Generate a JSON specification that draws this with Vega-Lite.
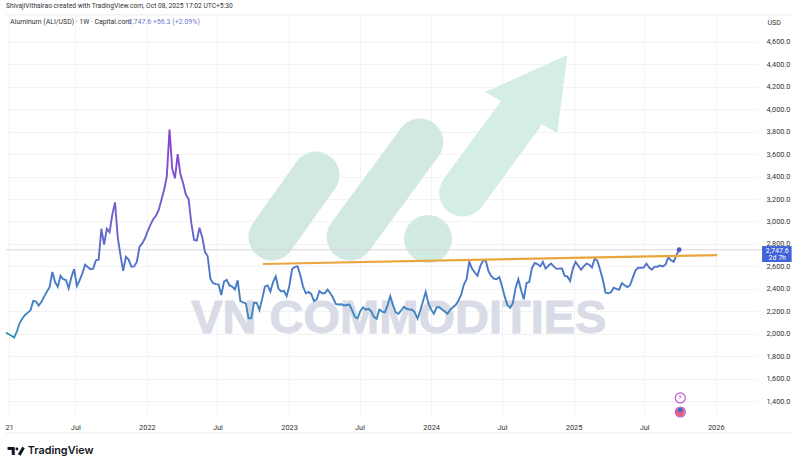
{
  "$schema": "https://vega.github.io/schema/vega-lite/v6.json",
  "description": "Aluminum (ALI/USD) weekly close with trend line and VN Commodities watermark",
  "width": 751,
  "height": 403,
  "autosize": "none",
  "padding": {"left": 6, "top": 15, "right": 43, "bottom": 43},
  "background": "white",
  "title": {
    "text": "ShivajiVithalrao created with TradingView.com, Oct 08, 2025 17:02 UTC+5:30",
    "anchor": "start",
    "frame": "group",
    "offset": 3,
    "fontSize": 6.7,
    "fontWeight": "normal",
    "font": "Roboto",
    "color": "#333333"
  },
  "config": {
    "view": {"stroke": null},
    "font": "Roboto"
  },
  "datasets": {
    "aluminum": [
      {"d":"2021-01-04","p":2009},{"d":"2021-01-11","p":1995},{"d":"2021-01-18","p":1982},{"d":"2021-01-25","p":1965},
      {"d":"2021-02-01","p":2020},{"d":"2021-02-08","p":2095},{"d":"2021-02-15","p":2135},{"d":"2021-02-22","p":2167},
      {"d":"2021-03-01","p":2188},{"d":"2021-03-08","p":2210},{"d":"2021-03-15","p":2292},{"d":"2021-03-22","p":2287},{"d":"2021-03-29","p":2250},
      {"d":"2021-04-05","p":2285},{"d":"2021-04-12","p":2330},{"d":"2021-04-19","p":2375},{"d":"2021-04-26","p":2415},
      {"d":"2021-05-03","p":2550},{"d":"2021-05-10","p":2460},{"d":"2021-05-17","p":2418},{"d":"2021-05-24","p":2515},{"d":"2021-05-31","p":2485},
      {"d":"2021-06-07","p":2478},{"d":"2021-06-14","p":2404},{"d":"2021-06-21","p":2505},{"d":"2021-06-28","p":2575},
      {"d":"2021-07-05","p":2425},{"d":"2021-07-12","p":2475},{"d":"2021-07-19","p":2535},{"d":"2021-07-26","p":2615},
      {"d":"2021-08-02","p":2595},{"d":"2021-08-09","p":2575},{"d":"2021-08-16","p":2580},{"d":"2021-08-23","p":2655},{"d":"2021-08-30","p":2660},
      {"d":"2021-09-06","p":2935},{"d":"2021-09-13","p":2795},{"d":"2021-09-20","p":2935},{"d":"2021-09-27","p":2905},
      {"d":"2021-10-04","p":3060},{"d":"2021-10-11","p":3170},{"d":"2021-10-18","p":2860},{"d":"2021-10-25","p":2700},
      {"d":"2021-11-01","p":2560},{"d":"2021-11-08","p":2685},{"d":"2021-11-15","p":2660},{"d":"2021-11-22","p":2597},{"d":"2021-11-29","p":2600},
      {"d":"2021-12-06","p":2640},{"d":"2021-12-13","p":2775},{"d":"2021-12-20","p":2805},{"d":"2021-12-27","p":2850},
      {"d":"2022-01-03","p":2915},{"d":"2022-01-10","p":2970},{"d":"2022-01-17","p":3020},{"d":"2022-01-24","p":3050},{"d":"2022-01-31","p":3100},
      {"d":"2022-02-07","p":3190},{"d":"2022-02-14","p":3280},{"d":"2022-02-21","p":3400},{"d":"2022-02-28","p":3820},
      {"d":"2022-03-07","p":3470},{"d":"2022-03-14","p":3385},{"d":"2022-03-21","p":3600},{"d":"2022-03-28","p":3420},
      {"d":"2022-04-04","p":3340},{"d":"2022-04-11","p":3240},{"d":"2022-04-18","p":3200},{"d":"2022-04-25","p":2985},
      {"d":"2022-05-02","p":2835},{"d":"2022-05-09","p":2829},{"d":"2022-05-16","p":2945},{"d":"2022-05-23","p":2860},{"d":"2022-05-30","p":2730},
      {"d":"2022-06-06","p":2690},{"d":"2022-06-13","p":2490},{"d":"2022-06-20","p":2450},{"d":"2022-06-27","p":2442},
      {"d":"2022-07-04","p":2440},{"d":"2022-07-11","p":2345},{"d":"2022-07-18","p":2465},{"d":"2022-07-25","p":2480},
      {"d":"2022-08-01","p":2430},{"d":"2022-08-08","p":2420},{"d":"2022-08-15","p":2395},{"d":"2022-08-22","p":2475},{"d":"2022-08-29","p":2291},
      {"d":"2022-09-05","p":2280},{"d":"2022-09-12","p":2270},{"d":"2022-09-19","p":2137},{"d":"2022-09-26","p":2137},
      {"d":"2022-10-03","p":2276},{"d":"2022-10-10","p":2276},{"d":"2022-10-17","p":2211},{"d":"2022-10-24","p":2310},{"d":"2022-10-31","p":2420},
      {"d":"2022-11-07","p":2430},{"d":"2022-11-14","p":2375},{"d":"2022-11-21","p":2460},{"d":"2022-11-28","p":2510},
      {"d":"2022-12-05","p":2400},{"d":"2022-12-12","p":2376},{"d":"2022-12-19","p":2381},{"d":"2022-12-26","p":2335},
      {"d":"2023-01-02","p":2430},{"d":"2023-01-09","p":2577},{"d":"2023-01-16","p":2595},{"d":"2023-01-23","p":2600},{"d":"2023-01-30","p":2520},
      {"d":"2023-02-06","p":2420},{"d":"2023-02-13","p":2360},{"d":"2023-02-20","p":2372},{"d":"2023-02-27","p":2355},
      {"d":"2023-03-06","p":2290},{"d":"2023-03-13","p":2305},{"d":"2023-03-20","p":2380},{"d":"2023-03-27","p":2360},
      {"d":"2023-04-03","p":2360},{"d":"2023-04-10","p":2393},{"d":"2023-04-17","p":2360},{"d":"2023-04-24","p":2320},
      {"d":"2023-05-01","p":2265},{"d":"2023-05-08","p":2260},{"d":"2023-05-15","p":2262},{"d":"2023-05-22","p":2252},{"d":"2023-05-29","p":2256},
      {"d":"2023-06-05","p":2260},{"d":"2023-06-12","p":2210},{"d":"2023-06-19","p":2150},{"d":"2023-06-26","p":2137},
      {"d":"2023-07-03","p":2200},{"d":"2023-07-10","p":2235},{"d":"2023-07-17","p":2214},{"d":"2023-07-24","p":2222},{"d":"2023-07-31","p":2200},
      {"d":"2023-08-07","p":2150},{"d":"2023-08-14","p":2131},{"d":"2023-08-21","p":2215},{"d":"2023-08-28","p":2197},
      {"d":"2023-09-04","p":2190},{"d":"2023-09-11","p":2250},{"d":"2023-09-18","p":2335},{"d":"2023-09-25","p":2255},
      {"d":"2023-10-02","p":2190},{"d":"2023-10-09","p":2177},{"d":"2023-10-16","p":2207},{"d":"2023-10-23","p":2240},{"d":"2023-10-30","p":2222},
      {"d":"2023-11-06","p":2215},{"d":"2023-11-13","p":2213},{"d":"2023-11-20","p":2190},{"d":"2023-11-27","p":2135},
      {"d":"2023-12-04","p":2205},{"d":"2023-12-11","p":2290},{"d":"2023-12-18","p":2372},{"d":"2023-12-25","p":2270},
      {"d":"2024-01-01","p":2215},{"d":"2024-01-08","p":2178},{"d":"2024-01-15","p":2235},{"d":"2024-01-22","p":2236},{"d":"2024-01-29","p":2216},
      {"d":"2024-02-05","p":2197},{"d":"2024-02-12","p":2177},{"d":"2024-02-19","p":2215},{"d":"2024-02-26","p":2236},
      {"d":"2024-03-04","p":2255},{"d":"2024-03-11","p":2295},{"d":"2024-03-18","p":2345},{"d":"2024-03-25","p":2436},
      {"d":"2024-04-01","p":2485},{"d":"2024-04-08","p":2640},{"d":"2024-04-15","p":2580},{"d":"2024-04-22","p":2545},{"d":"2024-04-29","p":2516},
      {"d":"2024-05-06","p":2600},{"d":"2024-05-13","p":2650},{"d":"2024-05-20","p":2655},{"d":"2024-05-27","p":2560},
      {"d":"2024-06-03","p":2515},{"d":"2024-06-10","p":2490},{"d":"2024-06-17","p":2485},{"d":"2024-06-24","p":2505},
      {"d":"2024-07-01","p":2425},{"d":"2024-07-08","p":2330},{"d":"2024-07-15","p":2255},{"d":"2024-07-22","p":2230},{"d":"2024-07-29","p":2275},
      {"d":"2024-08-05","p":2410},{"d":"2024-08-12","p":2485},{"d":"2024-08-19","p":2390},{"d":"2024-08-26","p":2306},
      {"d":"2024-09-02","p":2450},{"d":"2024-09-09","p":2462},{"d":"2024-09-16","p":2585},{"d":"2024-09-23","p":2630},{"d":"2024-09-30","p":2620},
      {"d":"2024-10-07","p":2600},{"d":"2024-10-14","p":2640},{"d":"2024-10-21","p":2580},{"d":"2024-10-28","p":2605},
      {"d":"2024-11-04","p":2625},{"d":"2024-11-11","p":2600},{"d":"2024-11-18","p":2578},{"d":"2024-11-25","p":2580},
      {"d":"2024-12-02","p":2582},{"d":"2024-12-09","p":2515},{"d":"2024-12-16","p":2510},{"d":"2024-12-23","p":2470},{"d":"2024-12-30","p":2580},
      {"d":"2025-01-06","p":2640},{"d":"2025-01-13","p":2605},{"d":"2025-01-20","p":2570},{"d":"2025-01-27","p":2600},
      {"d":"2025-02-03","p":2625},{"d":"2025-02-10","p":2615},{"d":"2025-02-17","p":2590},{"d":"2025-02-24","p":2670},
      {"d":"2025-03-03","p":2650},{"d":"2025-03-10","p":2570},{"d":"2025-03-17","p":2480},{"d":"2025-03-24","p":2365},{"d":"2025-03-31","p":2360},
      {"d":"2025-04-07","p":2370},{"d":"2025-04-14","p":2410},{"d":"2025-04-21","p":2400},{"d":"2025-04-28","p":2392},
      {"d":"2025-05-05","p":2450},{"d":"2025-05-12","p":2432},{"d":"2025-05-19","p":2415},{"d":"2025-05-26","p":2432},
      {"d":"2025-06-02","p":2500},{"d":"2025-06-09","p":2565},{"d":"2025-06-16","p":2588},{"d":"2025-06-23","p":2588},{"d":"2025-06-30","p":2590},
      {"d":"2025-07-07","p":2625},{"d":"2025-07-14","p":2590},{"d":"2025-07-21","p":2570},{"d":"2025-07-28","p":2597},
      {"d":"2025-08-04","p":2597},{"d":"2025-08-11","p":2607},{"d":"2025-08-18","p":2600},{"d":"2025-08-25","p":2615},
      {"d":"2025-09-01","p":2680},{"d":"2025-09-08","p":2655},{"d":"2025-09-15","p":2640},{"d":"2025-09-22","p":2700},{"d":"2025-09-29","p":2747.6}
    ]
  },
  "encoding": {
    "x": {
      "field": "d",
      "type": "temporal",
      "title": null,
      "scale": {
        "type": "utc",
        "domain": [{"year": 2021, "month": 1, "date": 4, "utc": true}, {"year": 2026, "month": 4, "date": 17, "utc": true}]
      },
      "axis": {
        "values": [
          {"year": 2021, "month": 1, "date": 12, "utc": true},
          {"year": 2021, "month": 7, "date": 1, "utc": true},
          {"year": 2022, "month": 1, "date": 1, "utc": true},
          {"year": 2022, "month": 7, "date": 1, "utc": true},
          {"year": 2023, "month": 1, "date": 1, "utc": true},
          {"year": 2023, "month": 7, "date": 1, "utc": true},
          {"year": 2024, "month": 1, "date": 1, "utc": true},
          {"year": 2024, "month": 7, "date": 1, "utc": true},
          {"year": 2025, "month": 1, "date": 1, "utc": true},
          {"year": 2025, "month": 7, "date": 1, "utc": true},
          {"year": 2026, "month": 1, "date": 1, "utc": true}
        ],
        "labelExpr": "utcmonth(datum.value) == 6 ? 'Jul' : (utcyear(datum.value) == 2021 ? '21' : '' + utcyear(datum.value))",
        "domain": false,
        "ticks": false,
        "grid": true,
        "gridColor": "#f3f3f6",
        "labelFontSize": 7.4,
        "labelColor": "#333333",
        "labelPadding": 5,
        "labelFlush": false,
        "labelOverlap": false
      }
    },
    "y": {
      "field": "p",
      "type": "quantitative",
      "title": null,
      "scale": {"domain": [1248.5, 4840.5], "nice": false, "zero": false},
      "axis": {
        "orient": "right",
        "values": [1400, 1600, 1800, 2000, 2200, 2400, 2600, 2800, 3000, 3200, 3400, 3600, 3800, 4000, 4200, 4400, 4600],
        "format": ",.1f",
        "domain": false,
        "ticks": false,
        "grid": true,
        "gridColor": "#f3f3f6",
        "labelFontSize": 7.3,
        "labelColor": "#333333",
        "labelPadding": 9,
        "labelOverlap": false
      }
    }
  },
  "layer": [
    {
      "data": {"values": [
        {"d":"2021-01-04","p":4841,"s":"top"},{"d":"2026-07-18","p":4841,"s":"top"},
        {"d":"2021-01-04","p":1115,"s":"bottom"},{"d":"2026-07-18","p":1115,"s":"bottom"}
      ]},
      "mark": {"type": "line", "color": "#ececf0", "strokeWidth": 1},
      "encoding": {"detail": {"field": "s"}}
    },
    {
      "data": {"values": [
        {"d":"2022-11-18","p":2862,"s":"pill1"},{"d":"2023-03-11","p":3414,"s":"pill1"},
        {"d":"2023-06-07","p":2862,"s":"pill2"},{"d":"2023-12-03","p":3708,"s":"pill2"}
      ]},
      "mark": {"type": "line", "color": "#d2e9e3", "strokeWidth": 47, "strokeCap": "round"},
      "encoding": {"detail": {"field": "s"}}
    },
    {
      "data": {"values": [{"d":"2024-03-22","p":3254},{"d":"2024-08-16","p":3949}]},
      "mark": {"type": "line", "color": "#d5eee4", "strokeWidth": 47, "strokeCap": "round"}
    },
    {
      "data": {"values": [
        {"d":"2024-05-18","p":4154,"q":4154},
        {"d":"2024-11-20","p":4444,"q":3789},
        {"d":"2024-12-16","p":4484,"q":4484}
      ]},
      "mark": {"type": "area", "color": "#d5eee4", "opacity": 1},
      "encoding": {"y2": {"field": "q"}}
    },
    {
      "data": {"values": [{"d":"2023-12-24","p":2844}]},
      "mark": {"type": "point", "filled": true, "shape": "circle", "color": "#d2ebe2", "opacity": 1, "size": 2304}
    },
    {
      "data": {"values": [{"d":"2023-10-10","p":2131,"t":"VN COMMODITIES"}]},
      "mark": {"type": "text", "font": "Liberation Sans", "fontWeight": "bold", "fontSize": 47, "color": "#d9dce6", "stroke": "#d9dce6", "strokeWidth": 1, "align": "center", "baseline": "middle"},
      "encoding": {"text": {"field": "t"}}
    },
    {
      "data": {"values": [{"d":"2021-01-04","p":2747.6},{"d":"2026-04-30","p":2747.6}]},
      "mark": {"type": "line", "color": "#d6d6da", "strokeWidth": 1}
    },
    {
      "data": {"name": "aluminum"},
      "mark": {
        "type": "line",
        "strokeWidth": 1.9,
        "stroke": {
          "gradient": "linear",
          "x1": 0, "y1": 0, "x2": 0, "y2": 1,
          "stops": [
            {"offset": 0, "color": "#8a3fd8"},
            {"offset": 0.44, "color": "#6f62cc"},
            {"offset": 0.71, "color": "#4a78c8"},
            {"offset": 1, "color": "#3a90b8"}
          ]
        }
      }
    },
    {
      "data": {"values": [{"d":"2022-10-26","p":2621},{"d":"2026-01-05","p":2701}]},
      "mark": {"type": "line", "color": "#e8a63c", "strokeWidth": 2.2}
    },
    {
      "data": {"values": [{"d":"2025-09-29","p":2747.6}]},
      "mark": {"type": "point", "filled": true, "shape": "circle", "color": "#5658c8", "opacity": 1, "size": 24}
    },
    {
      "data": {"values": [{"d":"2026-04-30","d2":"2026-07-15","p":2781,"q":2639}]},
      "mark": {"type": "rect", "color": "#3f63d8"},
      "encoding": {"x2": {"field": "d2"}, "y2": {"field": "q"}}
    },
    {
      "data": {"values": [{"d":"2026-06-08","p":2741,"t":"2,747.6"},{"d":"2026-06-08","p":2675,"t":"2d 7h"}]},
      "mark": {"type": "text", "color": "#ffffff", "fontSize": 7, "align": "center", "baseline": "middle"},
      "encoding": {"text": {"field": "t"}}
    },
    {
      "data": {"values": [{"d":"2026-05-31","p":4770,"t":"USD"}]},
      "mark": {"type": "text", "color": "#333333", "fontSize": 7, "align": "center", "baseline": "middle"},
      "encoding": {"text": {"field": "t"}}
    },
    {
      "data": {"values": [{"d":"2021-01-15","p":4774,"t":"Aluminum (ALI/USD) · 1W · Capital.com"}]},
      "mark": {"type": "text", "color": "#333333", "fontSize": 6.9, "align": "left", "baseline": "middle"},
      "encoding": {"text": {"field": "t"}}
    },
    {
      "data": {"values": [{"d":"2021-11-14","p":4774,"t":"2,747.6  +56.3 (+2.09%)"}]},
      "mark": {"type": "text", "color": "#7077c8", "fontSize": 7, "align": "left", "baseline": "middle"},
      "encoding": {"text": {"field": "t"}}
    },
    {
      "data": {"values": [{"d":"2025-10-02","p":1427},{"d":"2025-10-02","p":1302}]},
      "mark": {"type": "point", "filled": true, "shape": "circle", "fill": "#ffffff", "stroke": "#bb5ccf", "strokeWidth": 1.2, "opacity": 1, "size": 100}
    },
    {
      "data": {"values": [{"d":"2025-10-02","p":1302}]},
      "mark": {"type": "point", "filled": true, "shape": "circle", "color": "#e4607c", "opacity": 1, "size": 78}
    },
    {
      "data": {"values": [{"d":"2025-10-02","p":1320}]},
      "mark": {"type": "point", "filled": true, "shape": "circle", "color": "#3f6fd0", "opacity": 1, "size": 24}
    },
    {
      "data": {"values": [{"d":"2025-10-02","p":1427,"t":"⚡"}]},
      "mark": {"type": "text", "font": "DejaVu Sans", "color": "#bb5ccf", "fontSize": 8, "align": "center", "baseline": "middle"},
      "encoding": {"text": {"field": "t"}}
    },
    {
      "data": {"values": [
        {"d":"2021-01-08","p":977,"s":"a"},{"d":"2021-01-26","p":977,"s":"a"},
        {"d":"2021-01-22","p":977,"s":"b"},{"d":"2021-01-23","p":919,"s":"b"},
        {"d":"2021-02-07","p":919,"s":"c"},{"d":"2021-02-18","p":986,"s":"c"}
      ]},
      "mark": {"type": "line", "color": "#131722", "strokeWidth": 3},
      "encoding": {"detail": {"field": "s"}}
    },
    {
      "data": {"values": [{"d":"2021-02-01","p":972}]},
      "mark": {"type": "point", "filled": true, "shape": "circle", "color": "#131722", "opacity": 1, "size": 8}
    },
    {
      "data": {"values": [{"d":"2021-03-01","p":954,"t":"TradingView"}]},
      "mark": {"type": "text", "font": "Inter", "fontWeight": 600, "color": "#131722", "fontSize": 10.8, "align": "left", "baseline": "middle"},
      "encoding": {"text": {"field": "t"}}
    }
  ]
}
